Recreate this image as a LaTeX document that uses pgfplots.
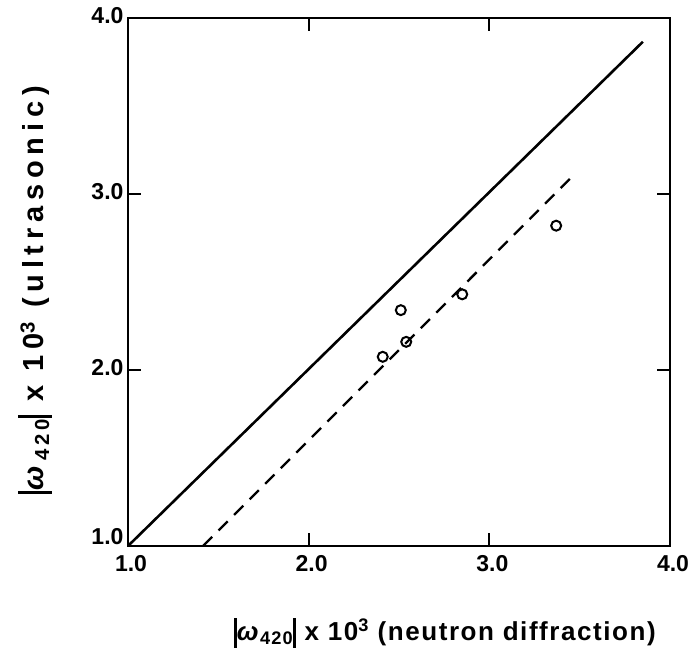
\documentclass[border=0pt]{standalone}
\usepackage{pgfplots}
\pgfplotsset{compat=1.18}
\usepackage{fontspec}
\setmainfont{Liberation Sans}
\newfontfamily\labfont[LetterSpace=6]{Liberation Sans}
\newfontfamily\ylabfont[LetterSpace=20]{Liberation Sans}
\newcommand{\vb}{\rule[-0.28em]{0.1em}{1.15em}}
\begin{document}
\begin{tikzpicture}
\begin{axis}[
  name=ax,
  width=542pt, height=528pt, scale only axis,
  xmin=1, xmax=4, ymin=1, ymax=4,
  xtick={1,2,3,4}, ytick={1,2,3,4},
  xticklabels={1.0,2.0,3.0,4.0},
  yticklabels={\raisebox{16pt}{1.0},2.0,3.0,4.0},
  tick align=inside, major tick length=13pt,
  axis line style={line width=2.5pt},
  every tick/.style={line width=2.2pt, black},
  tick label style={font=\bfseries\fontsize{23}{23}\selectfont},
  yticklabel style={xshift=-1pt, yshift=2pt},
  xticklabel style={yshift=-6pt, xshift=3pt},
  every axis x label/.style={at={(axis description cs:0.5,0)}, anchor=center, xshift=46pt, yshift=-87pt, font=\labfont\bfseries\fontsize{26}{26}\selectfont},
  every axis y label/.style={at={(axis description cs:0,0.5)}, anchor=center, xshift=-93pt, yshift=-8pt, rotate=90, font=\ylabfont\bfseries\fontsize{29}{29}\selectfont},
  xlabel={\vb\textit{ω}\textsubscript{420}\vb\ x 10\textsuperscript{3} (neutron diffraction)},
  ylabel={\vb\textit{ω}\textsubscript{420}\vb\ x 10\textsuperscript{3} (ultrasonic)},
  clip=false,
]
\addplot[line width=2.6pt] coordinates {(1,1) (3.85,3.865)};
\addplot[line width=2.3pt, dash pattern=on 13pt off 9pt] coordinates {(1.415,1) (3.46,3.10)};
\addplot[only marks, mark=o, mark size=5pt, mark options={line width=2pt, fill=white}] coordinates {
(2.41,2.075) (2.51,2.34) (2.54,2.16) (2.85,2.43) (3.37,2.82)};
\end{axis}
\pgfresetboundingbox
\path[use as bounding box] ([shift={(-128pt,-115pt)}]ax.south west) rectangle ([shift={(18pt,18pt)}]ax.north east);
\end{tikzpicture}
\end{document}
